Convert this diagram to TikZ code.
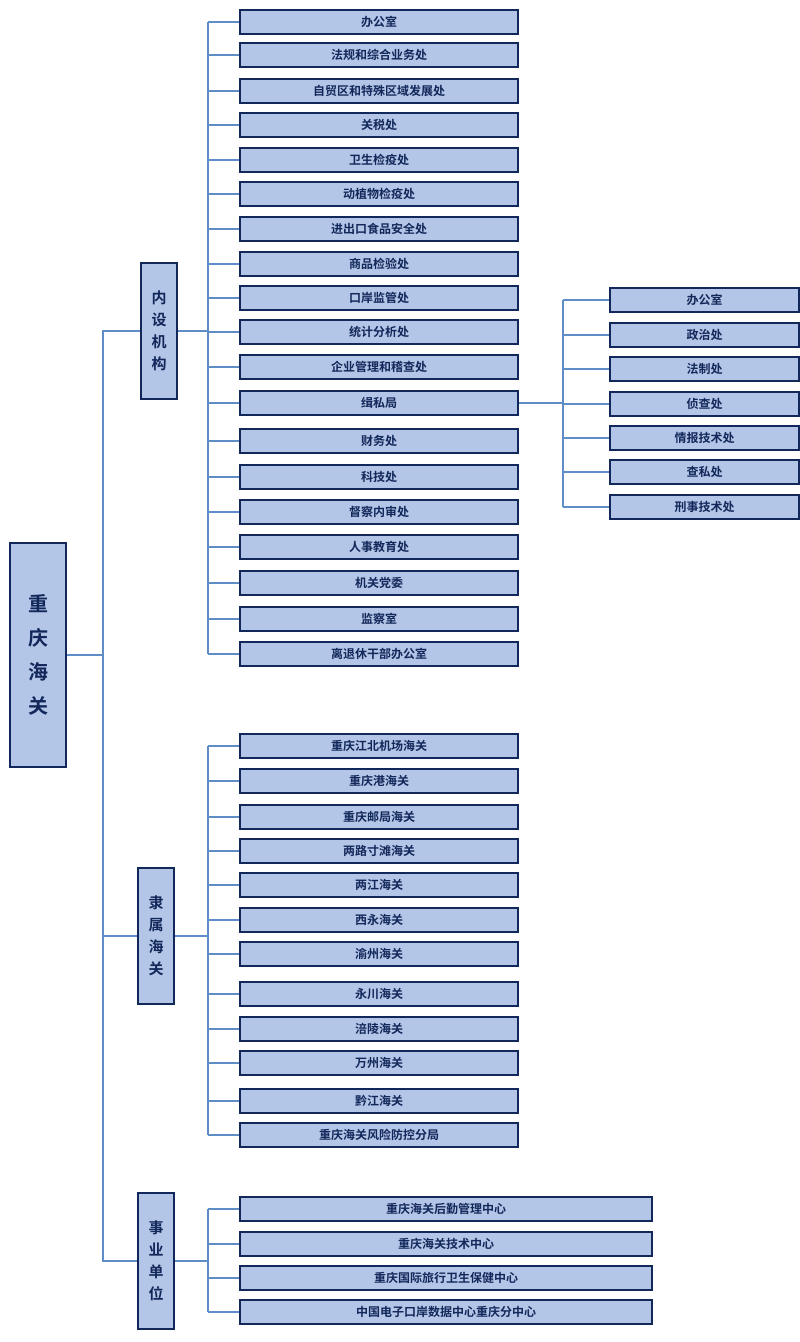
\documentclass[tikz,border=0pt]{standalone}
\usepackage{fontspec}
\newfontfamily\cjk{Noto Sans CJK SC}[BoldFont={Noto Sans CJK SC Bold}]
\definecolor{bfill}{HTML}{B4C6E7}
\definecolor{bdraw}{HTML}{12285A}
\definecolor{lcol}{HTML}{5F8DC8}
\begin{document}
\begin{tikzpicture}[x=1pt,y=-1pt,
  box/.style={draw=bdraw,line width=2.2pt,fill=bfill,text=bdraw,font=\cjk\bfseries\fontsize{12}{14}\selectfont,inner sep=0pt,anchor=west,minimum height=24pt},
  grp/.style={draw=bdraw,line width=2.2pt,fill=bfill,text=bdraw,font=\cjk\bfseries\fontsize{15}{22}\selectfont,inner sep=0pt,minimum width=36pt,minimum height=136pt,align=center},
  ln/.style={draw=lcol,line width=1.3pt}]
\useasboundingbox (0,0) rectangle (800,1342);
\node[grp,minimum width=56pt,minimum height=224pt,font=\cjk\bfseries\fontsize{20}{34}\selectfont] (root) at (38,655) {重\\庆\\海\\关};
\node[grp] (g1) at (159,331) {内\\设\\机\\构};
\node[grp] (g2) at (156,936) {隶\\属\\海\\关};
\node[grp] (g3) at (156,1261) {事\\业\\单\\位};
\coordinate (t1) at (103,331); \coordinate (t2) at (103,936); \coordinate (t3) at (103,1261); \coordinate (t0) at (103,655);
\draw[ln] (g1.west) -- (t1) -- (t3) -- (g3.west);
\draw[ln] (g2.west) -- (t2);
\draw[ln] (root.east) -- (t0);
% list 1
\foreach \i/\y/\t in {1/22/办公室,2/55/法规和综合业务处,3/91/自贸区和特殊区域发展处,4/125/关税处,5/160/卫生检疫处,6/194/动植物检疫处,7/229/进出口食品安全处,8/264/商品检验处,9/298/口岸监管处,10/332/统计分析处,11/367/企业管理和稽查处,12/403/缉私局,13/441/财务处,14/477/科技处,15/512/督察内审处,16/547/人事教育处,17/583/机关党委,18/619/监察室,19/654/离退休干部办公室}{
  \node[box,minimum width=278pt] (a\i) at (239,\y) {\t};
  \coordinate (ca\i) at (208,\y);
  \draw[ln] (ca\i) -- (a\i.west);
}
\draw[ln] (ca1) -- (ca19);
\coordinate (g1r) at (208,331);
\draw[ln] (g1.east) -- (g1r);
% sub list
\foreach \i/\y/\t in {1/300/办公室,2/335/政治处,3/369/法制处,4/404/侦查处,5/438/情报技术处,6/472/查私处,7/507/刑事技术处}{
  \node[box,minimum width=189pt] (s\i) at (609,\y) {\t};
  \coordinate (cs\i) at (563,\y);
  \draw[ln] (cs\i) -- (s\i.west);
}
\draw[ln] (cs1) -- (cs7);
\coordinate (sj) at (563,403);
\draw[ln] (a12.east) -- (sj);
% list 2
\foreach \i/\y/\t in {1/746/重庆江北机场海关,2/781/重庆港海关,3/817/重庆邮局海关,4/851/两路寸滩海关,5/885/两江海关,6/920/西永海关,7/954/渝州海关,8/994/永川海关,9/1029/涪陵海关,10/1063/万州海关,11/1101/黔江海关,12/1135/重庆海关风险防控分局}{
  \node[box,minimum width=278pt] (b\i) at (239,\y) {\t};
  \coordinate (cb\i) at (208,\y);
  \draw[ln] (cb\i) -- (b\i.west);
}
\draw[ln] (cb1) -- (cb12);
\coordinate (g2r) at (208,936);
\draw[ln] (g2.east) -- (g2r);
% list 3
\foreach \i/\y/\t in {1/1209/重庆海关后勤管理中心,2/1244/重庆海关技术中心,3/1278/重庆国际旅行卫生保健中心,4/1312/中国电子口岸数据中心重庆分中心}{
  \node[box,minimum width=412pt] (c\i) at (239,\y) {\t};
  \coordinate (cc\i) at (208,\y);
  \draw[ln] (cc\i) -- (c\i.west);
}
\draw[ln] (cc1) -- (cc4);
\coordinate (g3r) at (208,1261);
\draw[ln] (g3.east) -- (g3r);
\end{tikzpicture}
\end{document}
